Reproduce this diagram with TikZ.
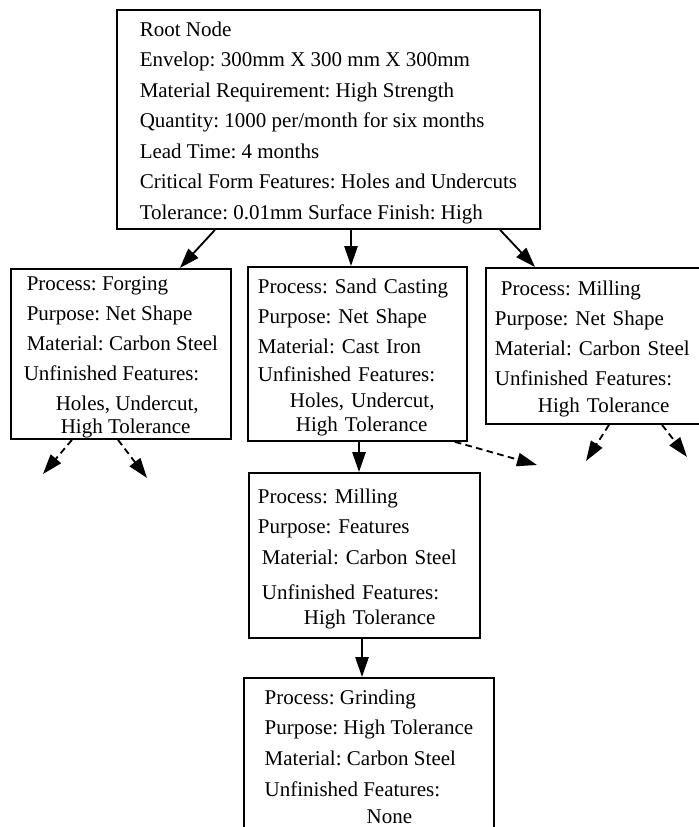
\documentclass[tikz,border=0pt]{standalone}
\usepackage{fontspec}
\setmainfont{Liberation Serif}
\usepackage{tikz}
\usetikzlibrary{arrows.meta}
\usetikzlibrary{calc}
\newcommand{\firstline}{\rule{0pt}{12.6pt}}
\tikzset{
proc_box/.style={rectangle, draw, line width=1.1pt, anchor=north west, align=left, inner sep=0pt, font=\fontsize{12.6}{18}\selectfont\frenchspacing},
flow/.style={-{Triangle[length=12pt, width=8pt]}, line width=1.1pt},
flow_open/.style={flow, dash pattern=on 4pt off 2.6pt}
}

\begin{document}
\begin{tikzpicture}[x=0.6pt, y=-0.6pt]
    \useasboundingbox (0,0) rectangle (698,827);

    \node[proc_box, minimum width=253.8pt, minimum height=131.4pt, font=\fontsize{12.6}{18.3}\selectfont\frenchspacing] (root) at (116,9) {\firstline Root Node\\
        Envelop: 300mm X 300 mm X 300mm\\
        Material Requirement: High Strength\\
        Quantity: 1000 per/month for six months\\
        Lead Time: 4 months\\
        Critical Form Features: Holes and Undercuts\\
        Tolerance: 0.01mm Surface Finish: High};

    \node[proc_box, minimum width=132pt, minimum height=102pt] (forging) at (10,268) {\firstline\hspace*{1.8pt}Process: Forging\\
        \hspace*{1.8pt}Purpose: Net Shape\\
        \hspace*{1.8pt}Material: Carbon Steel\\
        Unfinished Features:\\
        \hspace*{19.2pt}Holes, Undercut,\\[-4pt]
        \hspace*{22.2pt}High Tolerance};

    \node[proc_box, minimum width=131.4pt, minimum height=104.4pt, inner xsep=6pt, text width=119.4pt] (sand) at (247,266) {\firstline Process: Sand Casting\\
        Purpose: Net Shape\\
        Material: Cast Iron\\[-1.2pt]
        Unfinished Features:\\[-2.4pt]
        \hspace*{19.2pt}Holes, Undercut,\\[-3.6pt]
        \hspace*{22.8pt}High Tolerance};

    \node[proc_box, minimum width=138pt, minimum height=93.6pt, inner xsep=5.4pt, text width=127.2pt] (mill_r) at (485,267) {\firstline\hspace*{3.6pt}Process: Milling\\
        Purpose: Net Shape\\
        Material: Carbon Steel\\
        Unfinished Features:\\[-1.8pt]
        \hspace*{25.8pt}High Tolerance};

    \node[proc_box, minimum width=138.6pt, minimum height=99pt, inner xsep=5.4pt, text width=127.8pt] (mill_m) at (248,472) {\firstline Process: Milling\\
        Purpose: Features\\[0.6pt]
        \hspace*{2.4pt}Material: Carbon Steel\\[3pt]
        \hspace*{2.4pt}Unfinished Features:\\[-3pt]
        \hspace*{27.6pt}High Tolerance};

    \node[proc_box, minimum width=150pt, minimum height=94.2pt] (grind) at (243,677) {Process: Grinding\\
        Purpose: High Tolerance\\[0.6pt]
        Material: Carbon Steel\\[0.6pt]
        Unfinished Features:\\[-1.8pt]
        \hspace*{61.2pt}None};

    % solid links
    \draw[flow] ($(root.south west)+(99,0)$) -- ($(forging.north east)+(-52,0)$);
    \draw[flow] ($(root.south west)+(235,0)$) -- ($(sand.north west)+(104,0)$);
    \draw[flow] ($(root.south west)+(384,0)$) -- ($(mill_r.north west)+(50,0)$);
    \draw[flow] ($(sand.south west)+(112,0)$) -- ($(mill_m.north west)+(111,0)$);
    \draw[flow] ($(mill_m.south west)+(114,0)$) -- ($(grind.north west)+(119,0)$);

    % open branches
    \coordinate (forge_l) at (43,474);
    \coordinate (forge_r) at (147,478);
    \coordinate (sand_r) at (537,465);
    \coordinate (mill_l) at (586,461);
    \coordinate (mill_rr) at (687,457);
    \draw[flow_open] ($(forging.south west)+(62,0)$) -- (forge_l);
    \draw[flow_open] ($(forging.south west)+(108,0)$) -- (forge_r);
    \draw[flow_open] ($(sand.south east)+(-13,0)$) -- (sand_r);
    \draw[flow_open] ($(mill_r.south west)+(124,0)$) -- (mill_l);
    \draw[flow_open] ($(mill_r.south west)+(177,0)$) -- (mill_rr);
\end{tikzpicture}
\end{document}
